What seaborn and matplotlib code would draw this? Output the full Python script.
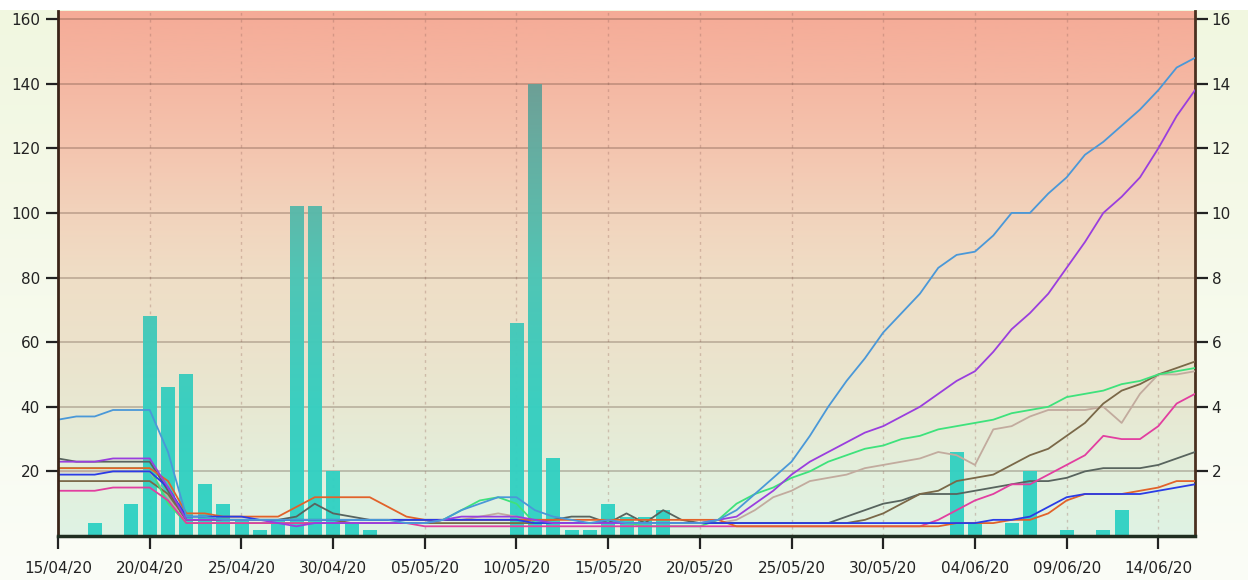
import numpy as np
import pandas as pd
import matplotlib
matplotlib.use("Agg")
import matplotlib.pyplot as plt
from matplotlib.colors import LinearSegmentedColormap, to_rgb
import seaborn as sns

# ---------------- data ----------------
start_date = "2020-04-15"
n_days = 63
tick_labels = ["15/04/20", "20/04/20", "25/04/20", "30/04/20", "05/05/20",
               "10/05/20", "15/05/20", "20/05/20", "25/05/20", "30/05/20",
               "04/06/20", "09/06/20", "14/06/20"]

# daily bars (right axis, 0-16)
bar_values = [0, 0, 0.4, 0, 1.0, 6.8, 4.6, 5.0, 1.6, 1.0,
              0.5, 0.2, 0.5, 10.2, 10.2, 2.0, 0.4, 0.2, 0, 0,
              0, 0, 0, 0, 0, 6.6, 14.0, 2.4, 0.2, 0.2,
              1.0, 0.6, 0.6, 0.8, 0, 0, 0, 0, 0, 0,
              0, 0, 0, 0, 0, 0, 0, 0, 0, 2.6,
              0.4, 0, 0.4, 2.0, 0, 0.2, 0, 0.2, 0.8, 0,
              0, 0, 0]

steel_blue = [36, 37, 37, 39, 39, 39,
              26, 6, 6, 5, 5, 5, 5, 5, 5, 5,
              5, 5, 5, 4, 4, 5, 8, 10, 12, 12,
              8, 6, 5, 4, 5, 4, 4, 4, 4, 4,
              5, 8, 13, 18, 23, 31, 40, 48, 55, 63,
              69, 75, 83, 87, 88, 93, 100, 100, 106, 111,
              118, 122, 127, 132, 138, 145, 148]
purple = [23, 23, 23, 24, 24, 24,
          15, 5, 5, 5, 5, 5, 4, 3, 4, 4,
          4, 4, 4, 4, 4, 5, 6, 6, 6, 6,
          5, 4, 4, 4, 4, 4, 4, 4, 4, 4,
          5, 6, 10, 14, 19, 23, 26, 29, 32, 34,
          37, 40, 44, 48, 51, 57, 64, 69, 75, 83,
          91, 100, 105, 111, 120, 130, 138]
green = [21, 21, 21, 21, 21, 21,
         10, 4, 4, 4, 4, 4, 4, 4, 4, 4,
         4, 4, 4, 4, 4, 5, 8, 11, 12, 10,
         4, 4, 4, 4, 4, 4, 3, 3, 3, 3,
         5, 10, 13, 15, 18, 20, 23, 25, 27, 28,
         30, 31, 33, 34, 35, 36, 38, 39, 40, 43,
         44, 45, 47, 48, 50, 51, 52]
brown = [17, 17, 17, 17, 17, 17,
         13, 5, 5, 5, 5, 5, 5, 5, 5, 5,
         4, 4, 4, 4, 4, 4, 4, 4, 4, 4,
         4, 4, 4, 4, 4, 4, 4, 4, 4, 4,
         4, 4, 4, 4, 4, 4, 4, 4, 5, 7,
         10, 13, 14, 17, 18, 19, 22, 25, 27, 31,
         35, 41, 45, 47, 50, 52, 54]
tan = [20, 20, 20, 20, 20, 20,
       12, 4, 4, 4, 4, 4, 4, 4, 4, 4,
       4, 4, 4, 4, 4, 5, 5, 6, 7, 6,
       4, 4, 4, 4, 4, 4, 4, 4, 4, 4,
       4, 5, 8, 12, 14, 17, 18, 19, 21, 22,
       23, 24, 26, 25, 22, 33, 34, 37, 39, 39,
       39, 40, 35, 44, 50, 50, 51]
pink = [14, 14, 14, 15, 15, 15,
        11, 4, 4, 4, 4, 4, 4, 4, 4, 4,
        4, 4, 4, 4, 3, 3, 3, 3, 3, 3,
        3, 3, 3, 3, 3, 3, 3, 3, 3, 3,
        3, 3, 3, 3, 3, 3, 3, 3, 3, 3,
        3, 3, 5, 8, 11, 13, 16, 16, 19, 22,
        25, 31, 30, 30, 34, 41, 44]
dark_gray = [24, 23, 23, 23, 23, 23,
             14, 5, 5, 5, 5, 5, 5, 6, 10, 7,
             6, 5, 5, 5, 5, 5, 5, 5, 5, 5,
             5, 5, 6, 6, 4, 7, 4, 8, 5, 4,
             4, 4, 4, 4, 4, 4, 4, 6, 8, 10,
             11, 13, 13, 13, 14, 15, 16, 17, 17, 18,
             20, 21, 21, 21, 22, 24, 26]
orange = [21, 21, 21, 21, 21, 21,
          17, 7, 7, 6, 6, 6, 6, 9, 12, 12,
          12, 12, 9, 6, 5, 5, 5, 5, 5, 5,
          5, 5, 5, 5, 5, 5, 5, 5, 5, 5,
          5, 3, 3, 3, 3, 3, 3, 3, 3, 3,
          3, 3, 3, 4, 4, 4, 5, 5, 7, 11,
          13, 13, 13, 14, 15, 17, 17]
blue = [19, 19, 19, 20, 20, 20,
        15, 6, 6, 6, 6, 5, 5, 5, 5, 5,
        5, 5, 5, 5, 5, 5, 5, 5, 5, 5,
        4, 4, 4, 4, 4, 4, 4, 4, 4, 4,
        4, 4, 4, 4, 4, 4, 4, 4, 4, 4,
        4, 4, 4, 4, 4, 5, 5, 6, 9, 12,
        13, 13, 13, 13, 14, 15, 16]

series = {
    "tan": tan, "dark_gray": dark_gray, "brown": brown, "green": green,
    "pink": pink, "orange": orange, "blue": blue, "purple": purple,
    "steel_blue": steel_blue,
}
series_colors = {
    "steel_blue": "#4a98d8", "purple": "#9a3ede", "green": "#3ee27c",
    "brown": "#7a6848", "tan": "#c2ab9e", "pink": "#e23ea0",
    "dark_gray": "#58645e", "orange": "#e2622a", "blue": "#2a3ce6",
}

days = np.arange(n_days)
dates = pd.date_range(start_date, periods=n_days)
bars_df = pd.DataFrame({"day": days, "value": bar_values})
lines_df = pd.concat(
    [pd.DataFrame({"day": days, "value": v, "series": k}) for k, v in series.items()],
    ignore_index=True)

# ---------------- style ----------------
sns.set_style("white")
plt.rcParams["font.family"] = ["DejaVu Sans"]

W, H = 1248, 580
fig = plt.figure(figsize=(W / 100, H / 100), dpi=100)

# figure background (soft vertical gradient)
bg_ax = fig.add_axes([0, 0, 1, 1], zorder=-10)
col = np.ones((H, 1, 3))
top_c, bot_c = np.array(to_rgb("#f1f7e0")), np.array(to_rgb("#fbfdf7"))
for i in range(H):
    if i < 10:
        col[i, 0] = (1, 1, 1)
    else:
        t = (i - 10) / (H - 10)
        col[i, 0] = top_c * (1 - t) + bot_c * t
bg_ax.imshow(col, aspect="auto", extent=[0, 1, 0, 1])
bg_ax.axis("off")

left_px, right_px, top_px, bot_px = 58, 1195, 11, 536
rect = [left_px / W, (H - bot_px) / H, (right_px - left_px) / W, (bot_px - top_px) / H]
ax = fig.add_axes(rect)
ax2 = ax.twinx()
ax.set_zorder(ax2.get_zorder() + 1)
ax.patch.set_visible(False)

YMAX = 162.5
XMAX = n_days - 1

# plot-area gradient on the lower (bar) axes
bg_cmap = LinearSegmentedColormap.from_list("bg", [
    (0.0, "#dff3e4"), (0.123, "#e3efdc"), (0.246, "#e8e8d2"), (0.369, "#ece2cb"),
    (0.492, "#efdec6"), (0.615, "#f2d3bc"), (0.738, "#f4c5af"), (0.862, "#f5b8a3"),
    (1.0, "#f5ab97")])
grad = np.linspace(0, 1, 512).reshape(-1, 1)
ax2.imshow(grad, extent=[0, XMAX, 0, YMAX / 10], origin="lower", aspect="auto",
           cmap=bg_cmap, zorder=0, interpolation="bilinear")

# bars
sns.barplot(data=bars_df, x="day", y="value", native_scale=True, ax=ax2,
            width=0.75, color="#30d2c4", errorbar=None, zorder=1.5)
bar_cmap = LinearSegmentedColormap.from_list("bars", [
    (0.0, "#30d2c4"), (0.25, "#36cfc0"), (0.5, "#4cc5b5"), (0.62, "#58b9aa"),
    (0.75, "#62aca0"), (0.87, "#6a9e95"), (1.0, "#709890")])
for p in list(ax2.patches):
    h = p.get_height()
    if h <= 0:
        p.set_visible(False)
        continue
    x0 = p.get_x()
    x1 = x0 + p.get_width()
    p.set_facecolor("none")
    p.set_edgecolor("none")
    im = ax2.imshow(grad, extent=[x0, x1, 0, YMAX / 10], origin="lower", aspect="auto",
                    cmap=bar_cmap, zorder=1.6, interpolation="bilinear", alpha=0.97)
    im.set_clip_path(p)

# lines
sns.lineplot(data=lines_df, x="day", y="value", hue="series", palette=series_colors,
             hue_order=list(series.keys()), ax=ax, legend=False, linewidth=1.3,
             errorbar=None)

# limits & ticks
ax.set_xlim(0, XMAX)
ax2.set_xlim(0, XMAX)
ax.set_ylim(0, YMAX)
ax2.set_ylim(0, YMAX / 10)
ax.set_xticks(range(0, 61, 5))
ax.set_xticklabels(tick_labels)
ax.set_yticks(range(20, 161, 20))
ax2.set_yticks(range(2, 17, 2))
ax.set_xlabel("")
ax.set_ylabel("")
ax2.set_xlabel("")
ax2.set_ylabel("")

# grid on lower axes
ax2.xaxis.set_visible(True)
ax2.set_axisbelow(True)
ax2.tick_params(axis="x", bottom=False, top=False, labelbottom=False, labeltop=False)
ax2.xaxis.set_ticks(range(0, 61, 5))
ax2.grid(axis="y", color="#4a3024", alpha=0.3, linewidth=1.2, linestyle="-")
ax2.grid(axis="x", color="#9a6a60", alpha=0.35, linewidth=1.0, linestyle=(0, (2, 3)))
ax.grid(False)

# spines
for s in ["top", "right"]:
    ax.spines[s].set_visible(False)
for s in ["top", "left", "bottom"]:
    ax2.spines[s].set_visible(False)
ax.spines["left"].set_color("#3a2418")
ax.spines["left"].set_linewidth(2.0)
ax.spines["bottom"].set_color("#1f2e20")
ax.spines["bottom"].set_linewidth(2.5)
ax2.spines["right"].set_color("#4a3020")
ax2.spines["right"].set_linewidth(2.0)

ax.tick_params(axis="y", length=9, width=1.6, color="#222222", pad=4,
               labelsize=11, labelcolor="#222222", left=True)
ax.tick_params(axis="x", length=9, width=1.6, color="#222222", pad=9,
               labelsize=11, labelcolor="#222222", bottom=True)
ax2.tick_params(axis="y", length=9, width=1.6, color="#222222", pad=3,
                labelsize=11, labelcolor="#222222", right=True)

fig.savefig("out.png", dpi=100)
